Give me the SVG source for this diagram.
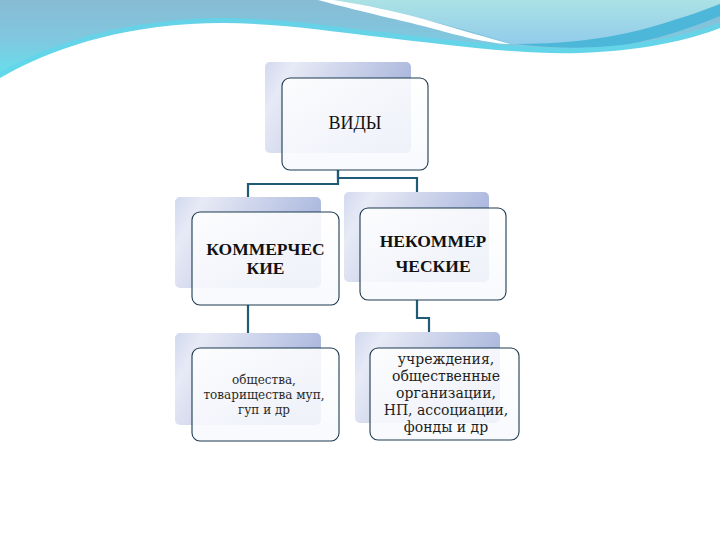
<svg xmlns="http://www.w3.org/2000/svg" width="720" height="540" viewBox="0 0 720 540">
<defs>
<linearGradient id="hdr" x1="0" y1="0" x2="0" y2="80" gradientUnits="userSpaceOnUse">
<stop offset="0" stop-color="#88bbd4"/>
<stop offset="0.5" stop-color="#7fc8df"/>
<stop offset="1" stop-color="#62e2ef"/>
</linearGradient>
<linearGradient id="lite" x1="0" y1="0" x2="0" y2="46" gradientUnits="userSpaceOnUse">
<stop offset="0" stop-color="#abe2e5"/>
<stop offset="1" stop-color="#90cbea"/>
</linearGradient>
<linearGradient id="back" x1="0" y1="0" x2="1" y2="0.35">
<stop offset="0" stop-color="#d2d9ef"/>
<stop offset="0.18" stop-color="#e7eaf6"/>
<stop offset="1" stop-color="#a8b5dc"/>
</linearGradient>
<linearGradient id="front" x1="0" y1="0" x2="0" y2="1">
<stop offset="0" stop-color="#ffffff"/>
<stop offset="1" stop-color="#f7f9fd"/>
</linearGradient>
<style>
.back{fill:url(#back);}
.front{fill:url(#front);fill-opacity:0.88;stroke:#1d3a50;stroke-width:1.1;}
.conn{fill:none;stroke:#1f5a76;stroke-width:2.2;}
.t1{font-family:"Liberation Serif",serif;font-size:18px;fill:#111;text-anchor:middle;}
.tb{font-family:"Liberation Serif",serif;font-size:17.5px;font-weight:bold;fill:#111;text-anchor:middle;}
.ts{font-family:"DejaVu Serif",serif;font-size:12px;fill:#2a2a2a;text-anchor:middle;}
.tm{font-family:"DejaVu Serif",serif;font-size:14px;fill:#1e1e1e;text-anchor:middle;}
</style>
</defs>
<rect width="720" height="540" fill="#ffffff"/>
<g id="header">
<rect x="0" y="0" width="720" height="90" fill="url(#hdr)"/>
<path d="M330,0 H720 V4 C700,14 680,22 640,36 C610,45 570,47 512,44 C470,30 400,12 330,0 Z" fill="url(#lite)"/>
<path d="M515,44 C560,44 600,40 640,30 C670,22 700,12 720,4 V16 C700,24 670,36 630,44 C590,50 550,48 515,44 Z" fill="#4db7d9"/>
<path d="M333,0 C360,4 400,12 430,21 C460,30 490,38 510,44 C490,44 460,36 427,27 C400,20 370,14 318,0 Z" fill="#ffffff"/>
<path d="M0,78 C40,55 100,30 190,24 C260,20 320,30 380,37 C450,45 520,55 580,53 C640,51 690,40 720,28" fill="none" stroke="#5fd6ea" stroke-width="10" stroke-opacity="0.8"/>
<path d="M0,78 C40,55 100,30 190,24 C260,20 320,30 380,37 C450,45 520,55 580,53 C640,51 690,40 720,28 V100 H0 Z" fill="#ffffff"/>
</g>
<g id="connectors">
<path class="conn" d="M338,170 V184 H248 V197"/>
<path class="conn" d="M338,170 V178 H417 V192"/>
<path class="conn" d="M248,305 V333"/>
<path class="conn" d="M417,300 V318 H429 V332"/>
</g>
<g id="node-vidy">
<rect class="back" x="265" y="62" width="146" height="91" rx="5"/>
<rect class="front" x="282" y="78" width="146" height="92" rx="8"/>
<text class="t1" x="355" y="129">ВИДЫ</text>
</g>
<g id="node-kommercheskie">
<rect class="back" x="175" y="197" width="146" height="91" rx="5"/>
<rect class="front" x="192" y="212" width="147" height="93" rx="8"/>
<text class="tb" x="265.5" y="255">КОММЕРЧЕС</text>
<text class="tb" x="265.5" y="274">КИЕ</text>
</g>
<g id="node-nekommercheskie">
<rect class="back" x="344" y="192" width="145" height="90" rx="5"/>
<rect class="front" x="360" y="208" width="146" height="92" rx="8"/>
<text class="tb" x="433" y="247">НЕКОММЕР</text>
<text class="tb" x="433" y="272">ЧЕСКИЕ</text>
</g>
<g id="node-obshchestva">
<rect class="back" x="175" y="333" width="146" height="92" rx="5"/>
<rect class="front" x="192" y="348" width="147" height="93" rx="8"/>
<text class="ts" x="264" y="384">общества,</text>
<text class="ts" x="264" y="399">товарищества муп,</text>
<text class="ts" x="264" y="414">гуп и др</text>
</g>
<g id="node-uchrezhdeniya">
<rect class="back" x="355" y="332" width="145" height="91" rx="5"/>
<rect class="front" x="370" y="348" width="149" height="92" rx="8"/>
<text class="tm" x="446" y="364">учреждения,</text>
<text class="tm" x="446" y="381">общественные</text>
<text class="tm" x="446" y="398">организации,</text>
<text class="tm" x="446" y="415">НП, ассоциации,</text>
<text class="tm" x="446" y="432">фонды и др</text>
</g>
</svg>
